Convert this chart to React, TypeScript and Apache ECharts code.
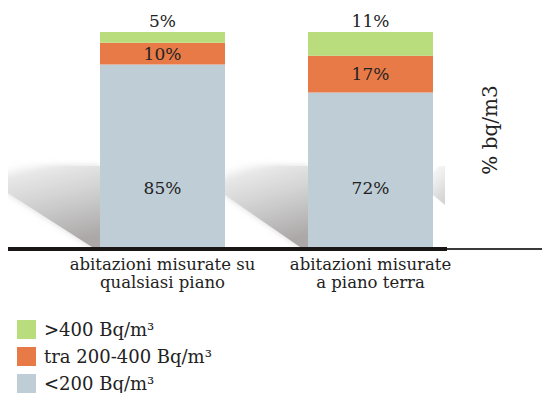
import React, { useEffect, useRef } from "react";
import * as echarts from "echarts";

const categories = ["abitazioni misurate su\nqualsiasi piano", "abitazioni misurate\na piano terra"];
const seriesNames = ["<200 Bq/m³", "tra 200-400 Bq/m³", ">400 Bq/m³"];
const low = [85, 72];
const mid = [10, 17];
const high = [5, 11];
const colors = ["#bfcdd7", "#e87a48", "#b9dc7d"];
const yName = "% bq/m3";

const FONT = "DejaVu Serif";

export default function App() {
  const ref = useRef<HTMLDivElement>(null);
  useEffect(() => {
    if (!ref.current) return;
    const chart = echarts.init(ref.current, null, { renderer: "svg" });
    const shadowFill = () =>
      new echarts.graphic.LinearGradient(0.2, 0, 0.5, 1, [
        { offset: 0, color: "rgba(255,255,255,0)" },
        { offset: 0.12, color: "rgba(232,232,232,0.9)" },
        { offset: 0.6, color: "rgba(200,200,200,1)" },
        { offset: 1, color: "rgba(172,168,168,1)" },
      ]);
    const label = { fontFamily: FONT, fontSize: 17, color: "#222" };
    chart.setOption({
      animation: false,
      backgroundColor: "#ffffff",
      grid: { left: 58.5, right: 75.5, top: 32, bottom: 153 },
      xAxis: {
        type: "category",
        data: categories,
        axisLine: { show: false },
        axisTick: { show: false },
        axisLabel: {
          fontFamily: FONT,
          fontSize: 16.5,
          color: "#222",
          margin: 7,
          lineHeight: 18,
          interval: 0,
        },
      },
      yAxis: { type: "value", min: 0, max: 100, show: false },
      legend: {
        data: [seriesNames[2], seriesNames[1], seriesNames[0]],
        orient: "vertical",
        left: 17,
        top: 320,
        padding: 0,
        icon: "rect",
        itemWidth: 19,
        itemHeight: 19,
        itemGap: 8,
        textStyle: { fontFamily: FONT, fontSize: 18, color: "#222", padding: [0, 0, 0, 3] },
      },
      graphic: [
        {
          type: "polygon",
          z: 0,
          shape: { points: [[0, 166], [100, 166], [100, 247], [92, 247], [0, 188]] },
          style: { fill: shadowFill(), shadowBlur: 6, shadowColor: "rgba(200,200,200,0.7)" },
        },
        {
          type: "polygon",
          z: 0,
          shape: { points: [[225, 166], [308, 166], [308, 247], [300, 247], [225, 195]] },
          style: { fill: shadowFill(), shadowBlur: 6, shadowColor: "rgba(200,200,200,0.7)" },
        },
        {
          type: "polygon",
          z: 0,
          shape: { points: [[433, 166], [445, 166], [445, 205], [433, 195]] },
          style: { fill: shadowFill(), opacity: 0.5 },
        },
        {
          type: "line",
          z: 100,
          shape: { x1: 0, y1: 249, x2: 447, y2: 249 },
          style: { stroke: "#1b1616", lineWidth: 4 },
        },
        {
          type: "line",
          z: 100,
          shape: { x1: 447, y1: 249, x2: 550, y2: 249 },
          style: { stroke: "#3a3a3a", lineWidth: 2 },
        },
        {
          type: "text",
          x: 490,
          y: 130,
          rotation: Math.PI / 2,
          style: {
            text: yName,
            fontFamily: FONT,
            fontSize: 20,
            fill: "#222",
            align: "center",
            verticalAlign: "middle",
          },
        },
      ],
      series: [
        {
          name: seriesNames[0],
          type: "bar",
          stack: "s",
          barWidth: 125,
          data: low,
          itemStyle: { color: colors[0] },
          label: { show: true, position: "insideBottom", distance: 52, formatter: "{c}%", ...label },
        },
        {
          name: seriesNames[1],
          type: "bar",
          stack: "s",
          data: mid,
          itemStyle: { color: colors[1] },
          label: { show: true, position: "inside", formatter: "{c}%", ...label },
        },
        {
          name: seriesNames[2],
          type: "bar",
          stack: "s",
          data: high,
          itemStyle: { color: colors[2] },
          label: { show: true, position: "top", distance: 3, formatter: "{c}%", ...label },
        },
      ],
    });
    return () => chart.dispose();
  }, []);
  return <div ref={ref} style={{ width: 550, height: 401, margin: -8 }} />;
}
